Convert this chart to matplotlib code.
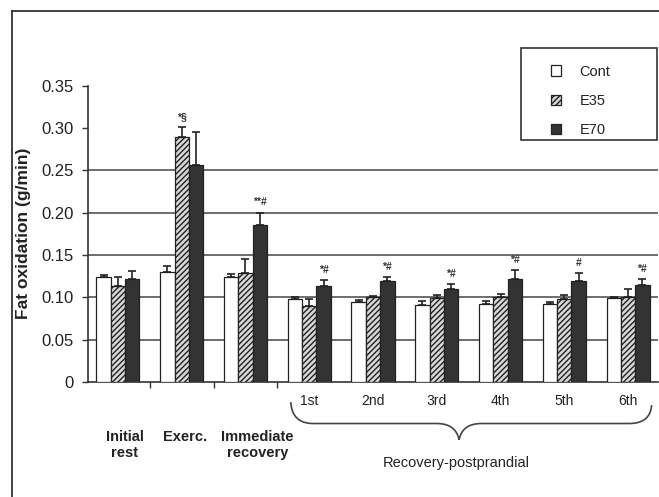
import matplotlib
matplotlib.use("Agg")
import matplotlib.pyplot as plt
import numpy as np
from matplotlib.patches import Patch, PathPatch
from matplotlib.path import Path
import matplotlib.transforms as mtransforms

# ---- data ----
groups = ["Initial\nrest", "Exerc.", "Immediate\nrecovery", "1st", "2nd", "3rd", "4th", "5th", "6th"]
series_names = ["Cont", "E35", "E70"]
cont = [0.124, 0.130, 0.124, 0.098, 0.095, 0.091, 0.092, 0.092, 0.099]
cont_err = [0.002, 0.007, 0.004, 0.002, 0.002, 0.005, 0.004, 0.003, 0.001]
e35 = [0.113, 0.289, 0.129, 0.090, 0.100, 0.099, 0.100, 0.098, 0.100]
e35_err = [0.011, 0.012, 0.016, 0.008, 0.001, 0.004, 0.004, 0.005, 0.010]
e70 = [0.122, 0.256, 0.185, 0.113, 0.119, 0.110, 0.121, 0.119, 0.114]
e70_err = [0.009, 0.039, 0.015, 0.007, 0.005, 0.006, 0.011, 0.010, 0.007]
annot = ["", "*§", "**#", "*#", "*#", "*#", "*#", "#", "*#"]
annot_series = [None, 1, 2, 2, 2, 2, 2, 2, 2]
ordinal_labels = ["1st", "2nd", "3rd", "4th", "5th", "6th"]
yticks = [0, 0.05, 0.10, 0.15, 0.20, 0.25, 0.30, 0.35]
ytick_labels = ["0", "0.05", "0.10", "0.15", "0.20", "0.25", "0.30", "0.35"]

plt.rcParams['font.family'] = ['Liberation Sans', 'DejaVu Sans']
plt.rcParams['hatch.color'] = '#444444'
plt.rcParams['hatch.linewidth'] = 1.0

W, H = 659, 497
fig = plt.figure(figsize=(W / 100, H / 100), dpi=100)
ax = fig.add_axes([88 / W, 115 / H, 570 / W, 296.5 / H])

x = np.arange(len(groups))
bw = 0.225
offs = [-bw, 0, bw]
vals = [cont, e35, e70]
errs = [cont_err, e35_err, e70_err]
faces = ["white", "#d8d8d8", "#333333"]
hatches = [None, "//////", None]

for i in range(3):
    ax.bar(x + offs[i], vals[i], width=bw, color=faces[i], edgecolor="#222222",
           linewidth=0.9, hatch=hatches[i], zorder=3)
    ax.errorbar(x + offs[i], vals[i], yerr=[np.zeros(len(x)), errs[i]], fmt="none",
                ecolor="#222222", elinewidth=1.2, capsize=3, capthick=1.2, zorder=4)

for gi, (a, s) in enumerate(zip(annot, annot_series)):
    if s is None or not a:
        continue
    top = vals[s][gi] + errs[s][gi]
    ax.text(x[gi] + offs[s], top + 0.006, a, ha="center", va="bottom",
            fontsize=7.5, fontweight="bold", color="#333333")

ax.set_xlim(-0.47, 8.47)
ax.set_ylim(0, 0.35)
ax.set_yticks(yticks)
ax.set_yticklabels(ytick_labels, fontsize=12, color="#222222")
ax.set_xticks([0.5, 1.5, 2.5])
ax.set_xticklabels([])
ax.tick_params(axis="both", direction="out", length=4, color="#333333", width=1)
ax.tick_params(axis="y", pad=6)

for gy in [0.05, 0.10, 0.15, 0.20, 0.25]:
    ax.axhline(gy, color="#555555", linewidth=1.2, zorder=1)

ax.spines["top"].set_visible(False)
ax.spines["right"].set_visible(False)
ax.spines["left"].set_color("#333333")
ax.spines["bottom"].set_color("#333333")
ax.spines["left"].set_linewidth(1.2)
ax.spines["bottom"].set_linewidth(1.2)

ax.set_ylabel("Fat oxidation (g/min)", fontsize=12.5, fontweight="bold", color="#222222", labelpad=8)

trans = mtransforms.blended_transform_factory(ax.transData, ax.transAxes)
for k, lab in enumerate(ordinal_labels):
    ax.text(3 + k, -0.042, lab, transform=trans, ha="center", va="top", fontsize=10, color="#222222")

ax.text(0.11, -0.162, "Initial\nrest", transform=trans, ha="center", va="top",
        fontsize=10.5, fontweight="bold", color="#222222", linespacing=1.2)
ax.text(1.06, -0.162, "Exerc.", transform=trans, ha="center", va="top",
        fontsize=10.5, fontweight="bold", color="#222222")
ax.text(2.19, -0.162, "Immediate\nrecovery", transform=trans, ha="center", va="top",
        fontsize=10.5, fontweight="bold", color="#222222", linespacing=1.2)
ax.text(5.3, -0.25, "Recovery-postprandial", transform=trans, ha="center", va="top",
        fontsize=10.5, color="#222222")

# curly brace
xl, xr, xm = 2.71, 8.37, 5.35
yt, yb, ytip = -0.068, -0.14, -0.195
verts = [
    (xl, yt),
    (xl + 0.02, yb), (xl + 0.35, yb),
    (xm - 0.35, yb),
    (xm - 0.05, yb), (xm, ytip),
    (xm + 0.05, yb), (xm + 0.35, yb),
    (xr - 0.35, yb),
    (xr - 0.02, yb), (xr, yt - 0.01),
]
codes = [Path.MOVETO,
         Path.CURVE3, Path.CURVE3,
         Path.LINETO,
         Path.CURVE3, Path.CURVE3,
         Path.CURVE3, Path.CURVE3,
         Path.LINETO,
         Path.CURVE3, Path.CURVE3]
brace = PathPatch(Path(verts, codes), transform=trans, facecolor="none",
                  edgecolor="#444444", linewidth=1.2, clip_on=False)
ax.add_patch(brace)

# legend
handles = [Patch(facecolor=faces[i], edgecolor="#222222", hatch=hatches[i], linewidth=0.9)
           for i in range(3)]
leg = fig.legend(handles, series_names, loc="upper left",
                 bbox_to_anchor=(536 / W, 1 - 142 / H, 120 / W, 92 / H),
                 fontsize=10.5, frameon=False,
                 handlelength=0.7, handleheight=0.7, handletextpad=1.3,
                 labelspacing=1.05, borderpad=1.0, borderaxespad=0)
for t in leg.get_texts():
    t.set_color("#222222")

fig.add_artist(plt.Rectangle((521 / W, 1 - 140 / H), 136 / W, 92 / H, transform=fig.transFigure,
                             fill=False, edgecolor="#333333", linewidth=1.2))

# figure frame (left and top)
fig.add_artist(plt.Line2D([12 / W, 12 / W], [0, 1 - 11 / H], transform=fig.transFigure,
                          color="#333333", linewidth=1.3))
fig.add_artist(plt.Line2D([12 / W, 1], [1 - 11 / H, 1 - 11 / H], transform=fig.transFigure,
                          color="#333333", linewidth=1.3))

fig.savefig("out.png", dpi=100)
